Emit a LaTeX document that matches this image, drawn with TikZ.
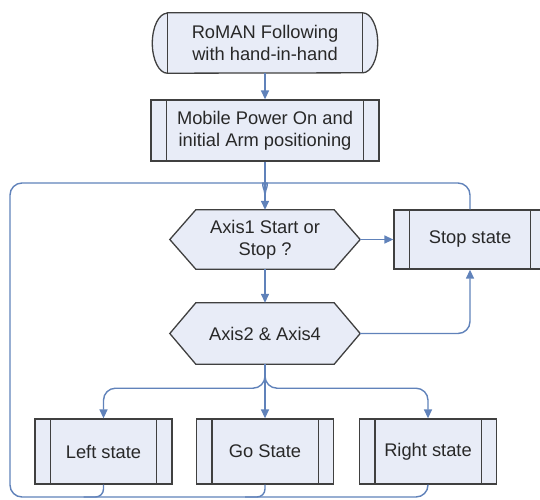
\documentclass[tikz,border=0pt]{standalone}
\usepackage{fontspec}
\setmainfont{Liberation Sans}
\usetikzlibrary{arrows.meta,backgrounds,calc}
\definecolor{boxfill}{RGB}{232,236,247}
\definecolor{boxdraw}{RGB}{64,64,64}
\definecolor{conncol}{RGB}{96,130,186}
\definecolor{txtcol}{RGB}{40,40,40}
\begin{document}
\begin{tikzpicture}[x=1pt,y=1pt,
  every node/.style={font=\fontsize{18.3}{22}\selectfont, text=txtcol, align=center, inner sep=0pt},
  box/.style={rectangle, draw=boxdraw, fill=boxfill, line width=1.3pt},
  plain/.style={rectangle},
  conn/.style={draw=conncol, line width=1.4pt},
  arr/.style={-{Triangle[length=9pt,width=8pt]}, conncol},
  shapeline/.style={draw=boxdraw, fill=boxfill, line width=1.3pt},
  innerline/.style={draw=boxdraw, line width=1.3pt}]

\useasboundingbox (0,0) rectangle (540,-499);
\clip (0,0) rectangle (540,-499);

% nodes
\node[plain, minimum width=195pt, minimum height=60pt] (t) at (265,-43) {RoMAN Following\\with hand-in-hand};
\node[box, minimum width=228pt, minimum height=61pt] (p1) at (265,-130.5) {Mobile Power On and\\initial Arm positioning};
\node[plain, minimum width=138pt, minimum height=59pt] (h1) at (265,-239.5) {Axis1 Start or\\Stop ?};
\node[plain, minimum width=138pt, minimum height=61pt] (h2) at (265,-333.5) {Axis2 \& Axis4};
\node[box, minimum width=152pt, minimum height=59pt] (ss) at (470,-239.5) {Stop state};
\node[box, minimum width=137pt, minimum height=65pt] (ls) at (103.5,-451.5) {Left state};
\node[box, minimum width=137pt, minimum height=65pt] (go) at (265,-451.5) {Go State};
\node[box, minimum width=137pt, minimum height=65pt] (rs) at (428,-451.5) {Right state};

\coordinate (h1r) at ([xshift=26pt]h1.east);
\coordinate (h2r) at ([xshift=26pt]h2.east);

\begin{scope}[on background layer]
  \path[shapeline] (t.north west) -- (t.north east)
     arc[start angle=90, end angle=-90, x radius=15pt, y radius=30pt]
     -- (t.south west)
     arc[start angle=270, end angle=90, x radius=15pt, y radius=30pt] -- cycle;
  \foreach \h in {h1,h2}
    \path[shapeline] (\h.north west) -- (\h.north east) -- ([xshift=26pt]\h.east)
      -- (\h.south east) -- (\h.south west) -- ([xshift=-26pt]\h.west) -- cycle;
\end{scope}

\draw[innerline] (t.north west) -- (t.south west) (t.north east) -- (t.south east);
\foreach \n in {p1,ss,ls,go,rs}
  \draw[innerline] ([xshift=16pt]\n.north west) -- ([xshift=16pt]\n.south west)
                   ([xshift=-16pt]\n.north east) -- ([xshift=-16pt]\n.south east);

% helper coordinates
\coordinate (mt) at (265,-195);
\coordinate (tlc) at (10,-183);
\coordinate (blc) at (10,-497);
\coordinate (jb) at ($(h2.south)+(0,-12)$);

% connectors
\draw[conn, arr] (t.south) -- (p1.north);
\draw[conn, arr] (p1.south) -- (h1.north);
\draw[conn, arr] (h1r) -- (h1r -| ss.west);
\draw[conn, arr] (h1.south) -- (h2.north);
\draw[conn, arr, rounded corners=12pt] (h2r) -| (ss.south);
\draw[conn, arr] (h2.south) -- (go.north);
\draw[conn, arr] (jb) to[out=-90,in=0] ++(-12,-12) [rounded corners=12pt] -| (ls.north);
\draw[conn, arr] (jb) to[out=-90,in=180] ++(12,-12) [rounded corners=12pt] -| (rs.north);

% return loops
\draw[conn, rounded corners=12pt] (rs.south) |- (blc) -- (tlc) -- ($(mt)+(-12,12)$) [sharp corners] to[out=0,in=90] (mt);
\draw[conn, rounded corners=8pt] (go.south) |- ($(go.south |- blc)+(-20,0)$);
\draw[conn, rounded corners=8pt] (ls.south) |- ($(ls.south |- blc)+(-20,0)$);
\draw[conn, rounded corners=12pt] (ss.north) |- ($(mt)+(12,12)$) [sharp corners] to[out=180,in=90] (mt);
\end{tikzpicture}
\end{document}
